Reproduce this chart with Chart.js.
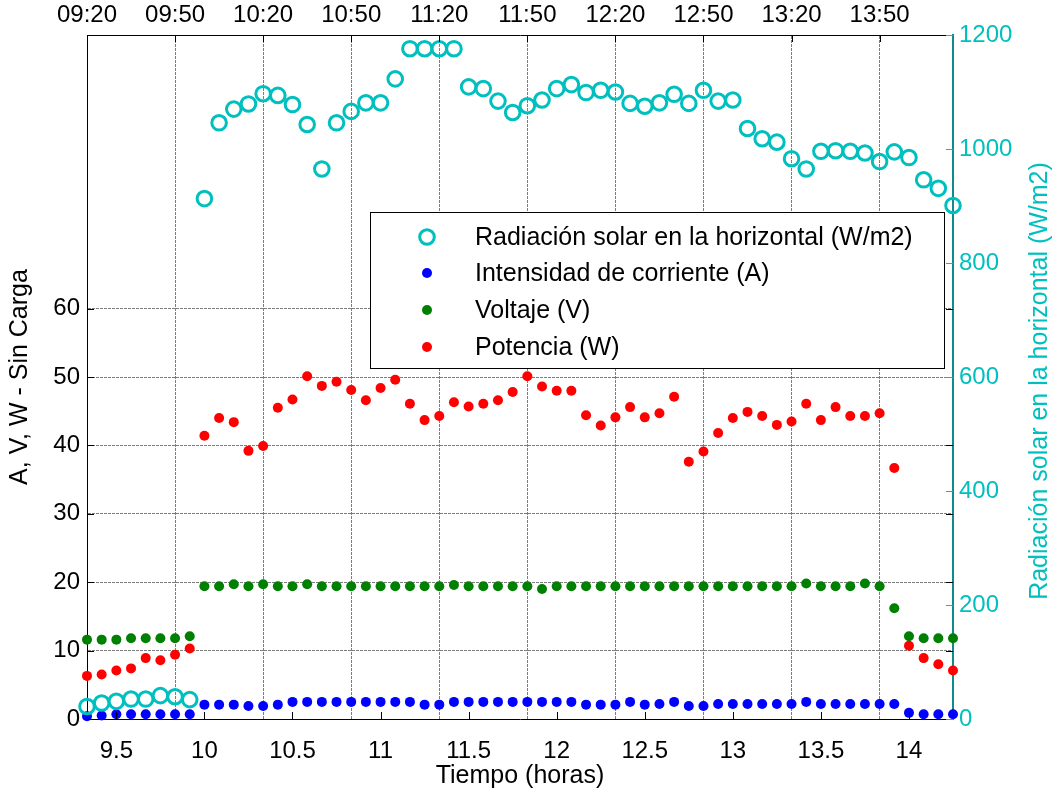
<!DOCTYPE html>
<html>
<head>
<meta charset="utf-8">
<title>Radiación solar y panel - Sin Carga</title>
<script src="https://cdn.jsdelivr.net/npm/chart.js@4.4.1/dist/chart.umd.min.js"></script>
<style>
  html, body { margin: 0; padding: 0; background: #fff; }
  canvas { display: block; }
</style>
</head>
<body>
<canvas id="solarChart" width="1061" height="797"></canvas>
<script>
// ============================
// DATA (one reading every 5 minutes)
// ============================
const horas = [
  "09:20", "09:25", "09:30", "09:35", "09:40", "09:45", "09:50", "09:55",
  "10:00", "10:05", "10:10", "10:15", "10:20", "10:25", "10:30", "10:35", "10:40", "10:45", "10:50", "10:55",
  "11:00", "11:05", "11:10", "11:15", "11:20", "11:25", "11:30", "11:35", "11:40", "11:45", "11:50", "11:55",
  "12:00", "12:05", "12:10", "12:15", "12:20", "12:25", "12:30", "12:35", "12:40", "12:45", "12:50", "12:55",
  "13:00", "13:05", "13:10", "13:15", "13:20", "13:25", "13:30", "13:35", "13:40", "13:45", "13:50", "13:55",
  "14:00", "14:05", "14:10", "14:15",
];

// W/m2 (right axis)
const radiacion = [
  22, 28, 31, 35, 35, 41, 39, 34,
  913, 1046, 1070, 1079, 1097, 1094, 1078, 1043, 965, 1046, 1066, 1081,
  1081, 1123, 1176, 1176, 1176, 1176, 1109, 1106, 1084, 1064, 1076, 1086,
  1106, 1113, 1099, 1103, 1100, 1080, 1075, 1081, 1096, 1080, 1103, 1084,
  1086, 1036, 1018, 1012, 983, 965, 996, 997, 996, 993, 978, 995,
  985, 946, 931, 901,
];

// A
const corriente = [
  0.4, 0.5, 0.7, 0.7, 0.7, 0.7, 0.7, 0.7,
  2.1, 2.1, 2.1, 1.9, 1.9, 2.1, 2.5, 2.5, 2.5, 2.5, 2.5, 2.5,
  2.5, 2.5, 2.5, 2.1, 2.1, 2.5, 2.5, 2.5, 2.5, 2.5, 2.5, 2.5,
  2.5, 2.5, 2.1, 2.1, 2.1, 2.5, 2.1, 2.2, 2.5, 1.9, 1.9, 2.2,
  2.2, 2.2, 2.2, 2.2, 2.2, 2.5, 2.2, 2.2, 2.2, 2.2, 2.2, 2.2,
  0.9, 0.7, 0.7, 0.7,
];

// V
const voltaje = [
  11.6, 11.6, 11.6, 11.8, 11.8, 11.8, 11.8, 12.1,
  19.4, 19.4, 19.7, 19.4, 19.7, 19.4, 19.4, 19.7, 19.4, 19.4, 19.4, 19.4,
  19.4, 19.4, 19.4, 19.4, 19.4, 19.6, 19.4, 19.4, 19.4, 19.4, 19.4, 19.0,
  19.4, 19.4, 19.4, 19.4, 19.4, 19.4, 19.4, 19.4, 19.4, 19.4, 19.4, 19.4,
  19.4, 19.4, 19.4, 19.4, 19.4, 19.8, 19.4, 19.4, 19.4, 19.8, 19.4, 16.2,
  12.1, 11.8, 11.8, 11.8,
];

// W
const potencia = [
  6.3, 6.5, 7.1, 7.4, 8.9, 8.6, 9.4, 10.3,
  41.4, 44.0, 43.4, 39.2, 39.9, 45.5, 46.7, 50.1, 48.7, 49.3, 48.1, 46.6,
  48.4, 49.6, 46.1, 43.7, 44.3, 46.3, 45.7, 46.1, 46.6, 47.8, 50.1, 48.6,
  48.0, 48.0, 44.4, 42.9, 44.1, 45.6, 44.1, 44.7, 47.1, 37.6, 39.1, 41.8,
  44.0, 44.9, 44.3, 43.0, 43.5, 46.1, 43.7, 45.6, 44.3, 44.3, 44.7, 36.7,
  10.7, 8.9, 8.0, 7.1,
];

// tick labels
const ticksX = [9.5, 10, 10.5, 11, 11.5, 12, 12.5, 13, 13.5, 14];
const ticksTop = ["09:20", "09:50", "10:20", "10:50", "11:20", "11:50", "12:20", "12:50", "13:20", "13:50"];
const ticksY = [0, 10, 20, 30, 40, 50, 60];
const ticksY2 = [0, 200, 400, 600, 800, 1000, 1200];

const seriesNames = [
  "Radiación solar en la horizontal (W/m2)",
  "Intensidad de corriente (A)",
  "Voltaje (V)",
  "Potencia (W)",
];

// ============================
// HELPERS
// ============================
const CYAN = "#00bfbf";
const GRID = "rgba(70,70,70,0.7)";
const FONT = "Arial, 'Liberation Sans', sans-serif";

function toHours(hhmm) {
  const [h, m] = hhmm.split(":").map(Number);
  return h + m / 60;
}

function points(values) {
  return horas.map((t, i) => ({ x: toHours(t), y: values[i] }));
}

const xMin = toHours(horas[0]);
const xMax = toHours(horas[horas.length - 1]);

// ============================
// PLUGIN: inward ticks, y titles, legend box
// ============================
const matlabLook = {
  id: "matlabLook",
  afterDatasetsDraw(chart) {
    const { ctx, chartArea: a, scales } = chart;
    const L = 7;
    ctx.save();
    ctx.lineWidth = 1;
    ctx.strokeStyle = "#000";
    ctx.beginPath();
    scales.x.ticks.forEach((t) => {
      const px = Math.round(scales.x.getPixelForValue(t.value)) + 0.5;
      ctx.moveTo(px, a.bottom);
      ctx.lineTo(px, a.bottom - L);
    });
    scales.xTop.ticks.forEach((t) => {
      const px = Math.round(scales.xTop.getPixelForValue(t.value)) + 0.5;
      ctx.moveTo(px, a.top);
      ctx.lineTo(px, a.top + L);
    });
    scales.y.ticks.forEach((t) => {
      const py = Math.round(scales.y.getPixelForValue(t.value)) + 0.5;
      ctx.moveTo(a.left, py);
      ctx.lineTo(a.left + L, py);
      ctx.moveTo(a.right, py);
      ctx.lineTo(a.right - L, py);
    });
    ctx.stroke();
    ctx.strokeStyle = CYAN;
    ctx.beginPath();
    scales.y2.ticks.forEach((t) => {
      const py = Math.round(scales.y2.getPixelForValue(t.value)) + 0.5;
      ctx.moveTo(a.right, py);
      ctx.lineTo(a.right - L, py);
    });
    ctx.stroke();
    ctx.restore();
  },
  afterDraw(chart) {
    const { ctx, chartArea: a } = chart;
    ctx.save();
    ctx.font = "25px " + FONT;
    ctx.textAlign = "center";
    ctx.textBaseline = "middle";

    // left title
    ctx.fillStyle = "#000";
    ctx.save();
    ctx.translate(20, (a.top + a.bottom) / 2);
    ctx.rotate(-Math.PI / 2);
    ctx.fillText("A, V, W - Sin Carga", 0, 0);
    ctx.restore();

    // right title
    ctx.fillStyle = CYAN;
    ctx.save();
    ctx.translate(1040, (a.top + a.bottom) / 2 + 4);
    ctx.rotate(-Math.PI / 2);
    ctx.fillText("Radiación solar en la horizontal (W/m2)", 0, 0);
    ctx.restore();

    // legend
    const box = { x: 370.5, y: 212.5, w: 574, h: 156 };
    ctx.fillStyle = "#fff";
    ctx.fillRect(box.x, box.y, box.w, box.h);
    ctx.strokeStyle = "#000";
    ctx.lineWidth = 1;
    ctx.strokeRect(box.x, box.y, box.w, box.h);

    const rowY = [237, 273, 310, 347];
    chart.data.datasets.forEach((ds, i) => {
      const y = rowY[i];
      ctx.beginPath();
      ctx.arc(427, y, ds.pointRadius, 0, Math.PI * 2);
      if (ds.pointBorderWidth > 0) {
        ctx.lineWidth = ds.pointBorderWidth;
        ctx.strokeStyle = ds.borderColor;
        ctx.stroke();
      } else {
        ctx.fillStyle = ds.backgroundColor;
        ctx.fill();
      }
      ctx.fillStyle = "#000";
      ctx.textAlign = "left";
      ctx.fillText(ds.label, 475, y + 1);
    });
    ctx.restore();
  },
};

// ============================
// CHART
// ============================
const ctx = document.getElementById("solarChart").getContext("2d");

const myChart = new Chart(ctx, {
  type: "scatter",
  data: {
    datasets: [
      {
        label: seriesNames[0],
        data: points(radiacion),
        yAxisID: "y2",
        backgroundColor: "rgba(0,0,0,0)",
        borderColor: CYAN,
        pointRadius: 7.3,
        pointBorderWidth: 3,
        order: 0,
        clip: false,
      },
      {
        label: seriesNames[1],
        data: points(corriente),
        yAxisID: "y",
        backgroundColor: "#0000ff",
        borderColor: "#0000ff",
        pointRadius: 5,
        pointBorderWidth: 0,
        order: 3,
        clip: false,
      },
      {
        label: seriesNames[2],
        data: points(voltaje),
        yAxisID: "y",
        backgroundColor: "#008000",
        borderColor: "#008000",
        pointRadius: 5,
        pointBorderWidth: 0,
        order: 2,
        clip: false,
      },
      {
        label: seriesNames[3],
        data: points(potencia),
        yAxisID: "y",
        backgroundColor: "#ff0000",
        borderColor: "#ff0000",
        pointRadius: 5,
        pointBorderWidth: 0,
        order: 1,
        clip: false,
      },
    ],
  },
  options: {
    responsive: false,
    animation: false,
    layout: { padding: 0 },
    plugins: {
      legend: { display: false },
      tooltip: { enabled: false },
    },
    scales: {
      x: {
        type: "linear",
        position: "bottom",
        min: xMin,
        max: xMax,
        afterBuildTicks: (scale) => {
          scale.ticks = ticksX.map((v) => ({ value: v }));
        },
        afterFit: (scale) => {
          scale.height = 78;
        },
        grid: { display: false },
        border: { display: true, color: "#000", width: 1 },
        ticks: {
          color: "#000",
          font: { family: FONT, size: 24 },
          padding: 10,
          maxRotation: 0,
          autoSkip: false,
          callback: (value) => String(value),
        },
        title: {
          display: true,
          text: "Tiempo (horas)",
          color: "#000",
          font: { family: FONT, size: 25 },
          padding: { top: 0, bottom: 6 },
        },
      },
      xTop: {
        type: "linear",
        position: "top",
        min: xMin,
        max: xMax,
        afterBuildTicks: (scale) => {
          scale.ticks = ticksTop.map((t) => ({ value: toHours(t) }));
        },
        afterFit: (scale) => {
          scale.height = 35;
        },
        grid: {
          display: true,
          drawTicks: false,
          color: GRID,
          lineWidth: 1,
        },
        border: { display: true, color: "#000", width: 1, dash: [3, 1] },
        ticks: {
          color: "#000",
          font: { family: FONT, size: 24 },
          padding: 5,
          maxRotation: 0,
          autoSkip: false,
          callback: (value, index) => ticksTop[index],
        },
      },
      y: {
        type: "linear",
        position: "left",
        min: 0,
        max: 100,
        afterBuildTicks: (scale) => {
          scale.ticks = ticksY.map((v) => ({ value: v }));
        },
        afterFit: (scale) => {
          scale.width = 87;
        },
        grid: {
          display: true,
          drawTicks: false,
          color: (c) => (c.tick && c.tick.value === 0 ? "rgba(0,0,0,0)" : GRID),
          lineWidth: 1,
        },
        border: { display: true, color: "#000", width: 1, dash: [3, 1] },
        ticks: {
          color: "#000",
          font: { family: FONT, size: 24 },
          padding: 7,
          callback: (value) => String(value),
        },
      },
      y2: {
        type: "linear",
        position: "right",
        min: 0,
        max: 1200,
        afterBuildTicks: (scale) => {
          scale.ticks = ticksY2.map((v) => ({ value: v }));
        },
        afterFit: (scale) => {
          scale.width = 108;
        },
        grid: { display: false, drawTicks: false },
        border: { display: true, color: "#138a8a", width: 2 },
        ticks: {
          color: CYAN,
          font: { family: FONT, size: 24 },
          padding: 6,
          callback: (value) => String(value),
        },
      },
    },
  },
  plugins: [matlabLook],
});
</script>
</body>
</html>
